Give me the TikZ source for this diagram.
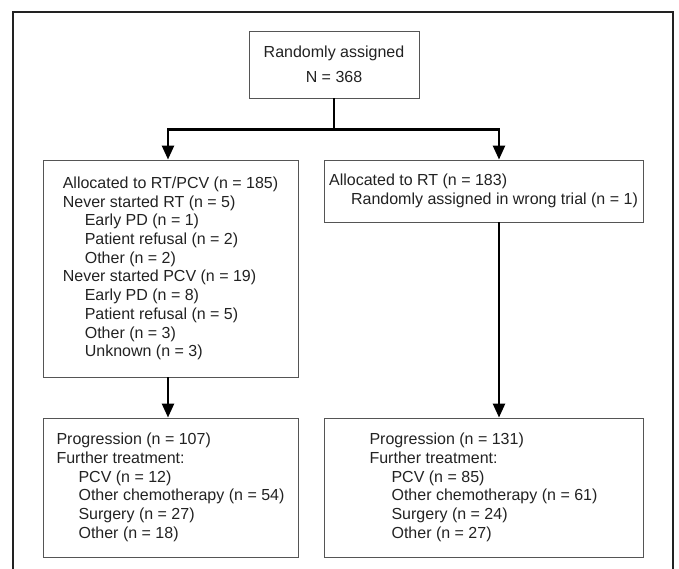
\documentclass[tikz,border=0pt]{standalone}
\usepackage{fontspec}
\setmainfont{Liberation Sans}
\usepackage{tikz}
\usetikzlibrary{arrows.meta,calc}
\definecolor{ink}{HTML}{222222}
\definecolor{edge}{HTML}{555555}
\def\ind{\hspace*{22pt}}
\def\boxl{255pt}
\def\boxr{319pt}
\def\shiftl{-2.5pt}
\def\shiftr{15.5pt}

\begin{document}
\begin{tikzpicture}[
	x=1pt,y=-1pt,
	box/.style={rectangle,draw=edge,line width=0.9pt,align=left,text=ink,font=\fontsize{16pt}{18.7pt}\selectfont},
	link/.style={line width=2.5pt,black},
	flow/.style={link,-{Triangle[width=12pt,length=14pt]}},
	frame/.style={line width=1.4pt,ink}
	]
	\useasboundingbox (0,0) rectangle (679,569);
	\draw[frame] (13,569) |- (673,12) -- (673,569);
	
	\node[box,align=center,minimum width=170pt,minimum height=67pt] (rand) at (334,64.5) {Randomly assigned\\[6pt]N = 368};
	
	\node[box,minimum width=\boxl,minimum height=217pt] (rtpcv) at (170.5,268.5) {Allocated to RT/PCV (n = 185)\\
		Never started RT (n = 5)\\
		\ind Early PD (n = 1)\\
		\ind Patient refusal (n = 2)\\
		\ind Other (n = 2)\\
		Never started PCV (n = 19)\\
		\ind Early PD (n = 8)\\
		\ind Patient refusal (n = 5)\\
		\ind Other (n = 3)\\
		\ind Unknown (n = 3)};
	\node[box,minimum width=\boxr,minimum height=62pt] (rt) at (483.5,191) {Allocated to RT (n = 183)\\
		\ind Randomly assigned in wrong trial (n = 1)};
	
	\node[box,minimum width=\boxl,minimum height=139pt] (progl) at (170.5,487.5) {Progression (n = 107)\\
		Further treatment:\\
		\ind PCV (n = 12)\\
		\ind Other chemotherapy (n = 54)\\
		\ind Surgery (n = 27)\\
		\ind Other (n = 18)};
	\node[box,minimum width=\boxr,minimum height=139pt] (progr) at (483.5,487.5) {Progression (n = 131)\\
		Further treatment:\\
		\ind PCV (n = 85)\\
		\ind Other chemotherapy (n = 61)\\
		\ind Surgery (n = 24)\\
		\ind Other (n = 27)};
	
	% randomisation split
	\draw[link] (rand.south) -- ++(0,31) coordinate (fork);
	\draw[flow] (fork) -| ([xshift=\shiftl]rtpcv.north);
	\draw[flow] (fork) -| ([xshift=\shiftr]rt.north);
	
	\draw[flow] ([xshift=\shiftl]rtpcv.south) -- ([xshift=\shiftl]progl.north);
	\draw[flow] ([xshift=\shiftr]rt.south) -- ([xshift=\shiftr]progr.north);
\end{tikzpicture}
\end{document}
